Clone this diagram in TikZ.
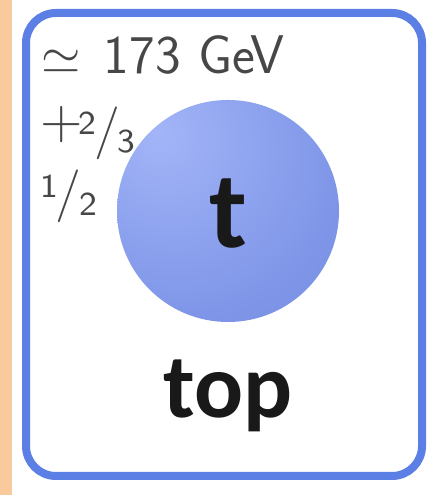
\documentclass[tikz,border=0pt]{standalone}
\usepackage{fontspec}
\newfontfamily\namefont{Carlito}
\newfontfamily\fracfont{lmsans8-regular.otf}
\usepackage{tikz}
\usetikzlibrary{positioning}
\definecolor{peach}{HTML}{F9CB9C}
\definecolor{frameblue}{HTML}{5B7FE4}
\definecolor{balllight}{HTML}{A3B5F8}
\definecolor{ballmid}{HTML}{7F96E8}
\definecolor{balldark}{HTML}{6880D8}
\definecolor{textgrey}{HTML}{474747}
\pgfdeclareradialshading{quarkball}{\pgfpoint{-16bp}{18bp}}{%
  color(0bp)=(balllight); color(35bp)=(ballmid); color(68bp)=(balldark); color(100bp)=(balldark)}
\newcommand{\slfrac}[2]{\raisebox{0.23em}{\fracfont\fontsize{9.5}{9.5}\selectfont #1}\kern-0.05em/\kern-0.04em\raisebox{-0.1em}{\fracfont\fontsize{9.5}{9.5}\selectfont #2}}

\begin{document}
\begin{tikzpicture}[
  frame/.style={rectangle,draw=frameblue,line width=0.08cm,fill=white,rounded corners=0.3cm,minimum width=3.96cm,minimum height=4.63cm,inner sep=0pt},
  quark/.style={circle,shading=quarkball,minimum size=2.22cm,inner sep=0pt},
  prop/.style={font=\sffamily\fontsize{15}{17}\selectfont,text=textgrey,inner sep=0pt,anchor=base west},
  symb/.style={font=\namefont\bfseries\fontsize{31}{31}\selectfont,text=black!90,inner sep=0pt,anchor=base},
  pname/.style={font=\namefont\bfseries\fontsize{26}{26}\selectfont,text=black!90,inner sep=0pt,anchor=base},
]
\useasboundingbox (0,0) rectangle (4.28,4.95);
% BACKGROUND STRIP
\fill[peach] (0,0) rectangle (0.12,4.95);

% CARD + BALL
\node[frame] (card) at (2.24,2.505) {};
\node[quark] (ball) at (2.28,2.84) {};

% PROPERTIES
\node[prop,font=\sffamily\fontsize{15.5}{17}\selectfont] (mass) at (0.41,4.21) {$\simeq$\hspace{0.42em}173\hspace{0.32em}GeV};
\node[prop] (charge) at (0.395,3.48) {\raisebox{0.17em}{\scalebox{1.1}{$+$}}\kern-0.07em\slfrac{2}{3}};
\node[prop] (spin) at (0.40,2.85) {\slfrac{1}{2}};

% SYMBOL + NAME
\node[symb] (sym) at (2.28,2.47) {t};
\node[pname] (name) at (2.28,0.77) {top};
\end{tikzpicture}
\end{document}
